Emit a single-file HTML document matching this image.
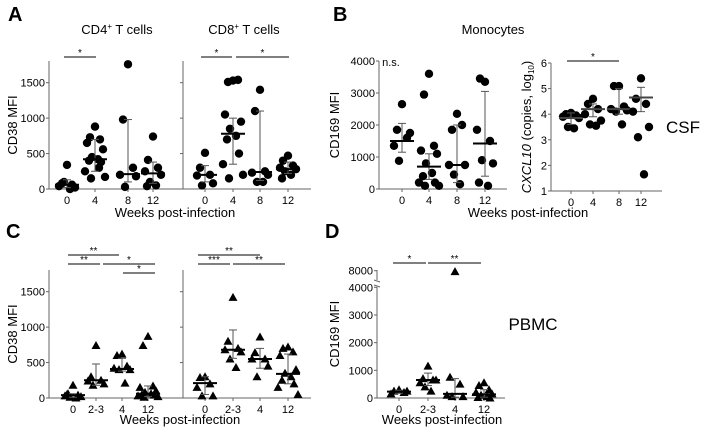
<!DOCTYPE html>
<html><head><meta charset="utf-8"><style>
body{margin:0;background:#fff}
svg{display:block;font-family:"Liberation Sans",Arial,sans-serif}
</style></head><body>
<svg id="fig" width="717" height="429" viewBox="0 0 717 429"></svg>
<script>
// ---- data ----
const catsA=["0","4","8","12"];
const catsC=["0","2-3","4","12"];
const cd4Pts=[[340,80,60,40,20,100,0],[880,730,700,650,560,450,420,400,380,250,170,150,300],[1760,980,300,200,180,30],[740,410,300,250,200,100,50,40]];
const cd4Med=[60,420,210,220],cd4Lo=[20,250,100,80],cd4Hi=[130,700,980,380];
const cd8Pts=[[510,300,200,190,80,50],[1530,1510,1540,1050,950,850,750,700,500,350,200,150],[1400,1100,250,230,200,100,100],[470,400,330,300,280,250,200,150]];
const cd8Med=[200,780,240,280],cd8Lo=[100,350,120,220],cd8Hi=[330,1000,1100,380];
const monoPts=[[2650,1850,1600,1350,1750,880],[3600,2950,1350,1200,1100,800,500,400,200,200,100,100],[2350,1850,2000,750,750,450,150],[3350,3450,1500,1850,800,900,100,200]];
const monoMed=[1500,700,750,1420],monoLo=[1150,300,200,400],monoHi=[2050,1100,2000,3050];
const cxPts=[[4.05,4.0,3.95,3.9,3.85,3.5,3.45],[4.6,4.4,4.2,4.0,3.75,3.6,3.55],[5.1,5.1,4.3,4.2,4.15,4.1,3.6],[5.4,4.6,4.4,4.1,3.5,3.1,1.65]];
const cxMed=[3.85,4.2,4.2,4.65],cxLo=[3.6,3.9,4.0,4.1],cxHi=[4.05,4.4,5.0,5.05];
const c4Pts=[[180,60,40,30,20,10,0,50],[740,300,250,240,200,180],[620,600,450,420,400,400,210],[870,740,170,150,100,80,60,50,40,30,20,10]];
const c4Med=[40,250,410,60],c4Lo=[10,180,380,20],c4Hi=[60,480,560,170];
const c8Pts=[[300,290,200,150,30,30],[1420,800,700,680,650,550,430],[860,640,550,550,450,300],[720,700,650,600,400,350,300,250,200,150,50]];
const c8Med=[210,680,550,340],c8Lo=[50,560,420,200],c8Hi=[300,960,700,620];
const dPts=[[300,250,200,150,250],[1150,700,650,550,650,400,250],[7700,750,500,100,50,50],[550,450,300,200,150,100,50,20,0]];
const dMed=[230,650,150,130],dLo=[170,450,30,30],dHi=[280,900,700,300];
const cd38Ticks=[0,500,1000,1500];
const monoTicks=[0,1000,2000,3000,4000];
const cxTicks=[1,2,3,4,5,6];
const dTicks=[0,1000,2000,3000,4000];
// ---- helpers ----
const NS="http://www.w3.org/2000/svg",svg=document.getElementById('fig');
function mk(tag,at,txt){const e=document.createElementNS(NS,tag);for(const k in at)e.setAttribute(k,at[k]);if(txt!==undefined)e.textContent=txt;svg.appendChild(e);return e;}
function line(x1,y1,x2,y2,w,c){return mk('line',{x1,y1,x2,y2,stroke:c||'#000','stroke-width':w||1});}
function text(x,y,t,sz,anchor,extra){const e=mk('text',Object.assign({x,y,'font-size':sz,'text-anchor':anchor||'middle',fill:'#000'},extra||{}),t);return e;}
function panel(o){
  const y=o.y, X=i=>o.xs[i];
  let a=line(o.ax,o.top,o.ax,o.y0,1,'#666');
  
  let b=line(o.ax,o.y0,o.xend,o.y0,1,'#666');
  
  if(o.ticks&&o.showTickLabels!==false){o.ticks.forEach(t=>{line(o.ax-3,y(t),o.ax,y(t),1,'#666');
    const tl=text(o.ax-4,y(t)+4,String(t),11,'end');});}
  else if(o.ticks){o.ticks.forEach(t=>line(o.ax-3,y(t),o.ax,y(t),1,'#666'));}
  o.cats.forEach((c,i)=>{line(X(i),o.y0,X(i),o.y0+3,1,'#666');
    const tl=text(X(i),o.y0+15,c,11);});
  const offs=[0,-5,5,-8,8,-3,3,-6,6,-10,10,-4,4];
  o.pts.forEach((arr,i)=>{
    const g=document.createElementNS(NS,'g');svg.appendChild(g);
    
    arr.forEach((v,j)=>{const cx=X(i)+offs[j%offs.length],cy=y(v);let m;
      if(o.tri){m=document.createElementNS(NS,'polygon');m.setAttribute('points',`${cx},${cy-4.5} ${cx-4.5},${cy+3.5} ${cx+4.5},${cy+3.5}`);}
      else{m=document.createElementNS(NS,'circle');m.setAttribute('cx',cx);m.setAttribute('cy',cy);m.setAttribute('r',4.2);}
      m.setAttribute('fill','#000');g.appendChild(m);});
    const ec=o.errColor||'#555';
    let e1=line(X(i),y(o.lo[i]),X(i),y(o.hi[i]),1,ec);
    line(X(i)-4,y(o.lo[i]),X(i)+4,y(o.lo[i]),1,ec);line(X(i)-4,y(o.hi[i]),X(i)+4,y(o.hi[i]),1,ec);
    let md=line(X(i)-12,y(o.med[i]),X(i)+12,y(o.med[i]),2,o.medColor||'#000');
  });
  (o.sig||[]).forEach(s=>{let l=line(s[0],s[2],s[1],s[2],1,'#000');
    text((s[0]+s[1])/2,s[2]-1,s[3],10);});
}
const lin=(v0,p0,v1,p1)=>v=>p0+(v-v0)*(p1-p0)/(v1-v0);
// ---- panels ----
const yA=lin(0,189,1500,82.7);
panel({name:'cd4-csf',cats:catsA,pts:cd4Pts,med:cd4Med,lo:cd4Lo,hi:cd4Hi,y:yA,ax:49,y0:189,top:61,xend:183,xs:[67,95,128,153],ticks:cd38Ticks,sig:[[64,96,57,'*']]});
panel({name:'cd8-csf',cats:catsA,pts:cd8Pts,med:cd8Med,lo:cd8Lo,hi:cd8Hi,y:yA,ax:183,y0:189,top:61,xend:311,xs:[205,233,260,288],ticks:cd38Ticks,showTickLabels:false,sig:[[201,232,57,'*'],[236,289,57,'*']]});
const yB=lin(0,189,4000,61);
panel({name:'monocyte-cd169-csf',cats:catsA,pts:monoPts,med:monoMed,lo:monoLo,hi:monoHi,y:yB,ax:379,y0:189,top:61,xend:507,xs:[402,429,457,485],ticks:monoTicks});
const yX=lin(1,191,6,63);
panel({name:'cxcl10-csf',cats:catsA,pts:cxPts,med:cxMed,lo:cxLo,hi:cxHi,y:yX,ax:551,y0:191,top:63,xend:662,xs:[571,593,619,641],ticks:cxTicks,medColor:'#444',sig:[[567,619,61,'*']]});
const yC=lin(0,398,1500,291.7);
panel({name:'cd4-pbmc',cats:catsC,pts:c4Pts,med:c4Med,lo:c4Lo,hi:c4Hi,y:yC,ax:49,y0:398,top:270,xend:183,xs:[73,96,122,148],ticks:cd38Ticks,tri:true,
  sig:[[68,119,255,'**'],[68,100,264,'**'],[103,155,264,'*'],[123,155,273,'*']]});
panel({name:'cd8-pbmc',cats:catsC,pts:c8Pts,med:c8Med,lo:c8Lo,hi:c8Hi,y:yC,ax:183,y0:398,top:270,xend:311,xs:[205,233,260,288],ticks:cd38Ticks,showTickLabels:false,tri:true,
  sig:[[198,260,255,'**'],[198,230,264,'***'],[233,285,264,'**']]});
const yDlow=lin(0,398,4000,287.3);
const yD=v=>v<=4000?yDlow(v):283-(v-4000)/4000*12.3;
panel({name:'monocyte-cd169-pbmc',cats:catsC,pts:dPts,med:dMed,lo:dLo,hi:dHi,y:yD,ax:377,y0:398,top:287,xend:505,xs:[399,428,455,484],ticks:dTicks,tri:true,
  sig:[[393,426,263,'*'],[428,481,263,'**']]});
line(377,270,377,280,1,'#666');line(374,280,380,282,1,'#666');line(374,285,380,287,1,'#666');
line(374,270.7,377,270.7,1,'#666');
let t8=text(373,274.7,'8000',11,'end');
// ---- labels ----
const labs=[
 [8,21,'A',20,'start','panel-label-a',{'font-weight':'bold'}],
 [333,21,'B',20,'start','panel-label-b',{'font-weight':'bold'}],
 [6,238,'C',20,'start','panel-label-c',{'font-weight':'bold'}],
 [325,238,'D',20,'start','panel-label-d',{'font-weight':'bold'}],
 [493,34,'Monocytes',13,'middle','title-monocytes',{}],
 [683,133,'CSF',17,'middle','label-csf',{}],
 [533,330,'PBMC',17,'middle','label-pbmc',{}],
 [175,217,'Weeks post-infection',13,'middle','x-axis-title-a',{}],
 [528,217,'Weeks post-infection',13,'middle','x-axis-title-b',{}],
 [180,424,'Weeks post-infection',13,'middle','x-axis-title-c',{}],
 [442,424,'Weeks post-infection',13,'middle','x-axis-title-d',{}],
 [391,66,'n.s.',11,'middle','ns-label',{}]
];
labs.forEach(l=>{const e=text(l[0],l[1],l[2],l[3],l[4],l[6]);});
function html(x,y,content,sz,name,rot){const e=mk('text',{x,y,'font-size':sz,'text-anchor':'middle',fill:'#000',transform:rot?`rotate(-90 ${x} ${y})`:''});e.innerHTML=content;}
html(117,34,'CD4<tspan font-size="8" dy="-5">+</tspan><tspan dy="5"> T cells</tspan>',13,'title-cd4');
html(244,34,'CD8<tspan font-size="8" dy="-5">+</tspan><tspan dy="5"> T cells</tspan>',13,'title-cd8');
html(17,125,'CD38 MFI',13,'y-axis-title-a',true);
html(17,334,'CD38 MFI',13,'y-axis-title-c',true);
html(339,125,'CD169 MFI',13,'y-axis-title-b',true);
html(339,334,'CD169 MFI',13,'y-axis-title-d',true);
html(531,127,'<tspan font-style="italic">CXCL10</tspan> (copies, log<tspan font-size="8" dy="3">10</tspan><tspan dy="-3">)</tspan>',13,'y-axis-title-cxcl10',true);
</script>
</body></html>
